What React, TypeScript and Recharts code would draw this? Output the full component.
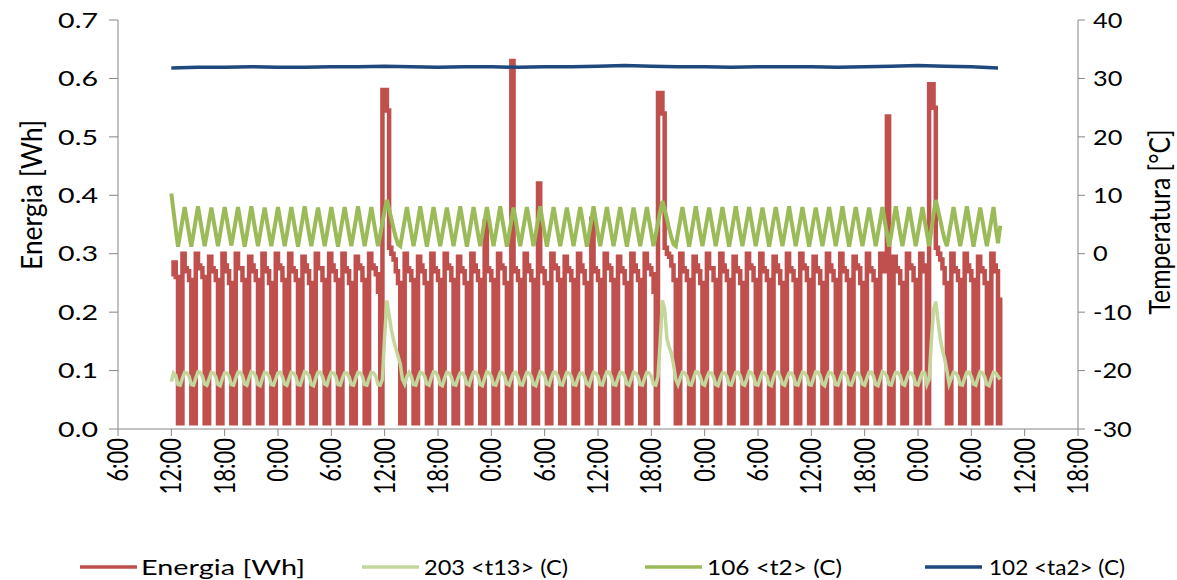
import { LineChart, Line, XAxis, YAxis } from 'recharts'

// x axis: hours from 6:00 of day 1, one tick every 6 hours
const timeLabels = [
  '6:00', '12:00', '18:00', '0:00', '6:00', '12:00', '18:00', '0:00', '6:00', '12:00',
  '18:00', '0:00', '6:00', '12:00', '18:00', '0:00', '6:00', '12:00', '18:00',
]
const energyTicks = [0, 0.1, 0.2, 0.3, 0.4, 0.5, 0.6, 0.7]
const tempTicks = [-30, -20, -10, 0, 10, 20, 30, 40]

// samples every 15 min, first one at 12:00 of day 1
const sampleStart = 6
const sampleStep = 0.25

// Energia [Wh]
const energia = [
  // 12:00 day 1 -> first defrost
  0.265, 0.285, 0.26, 0.01, 0.01, 0.30,
  0.275, 0.27, 0.255, 0.01, 0.01, 0.30,
  0.28, 0.275, 0.26, 0.01, 0.01, 0.295,
  0.275, 0.27, 0.255, 0.01, 0.01, 0.30,
  0.28, 0.27, 0.25, 0.01, 0.01, 0.30,
  0.275, 0.275, 0.255, 0.01, 0.01, 0.295,
  0.28, 0.27, 0.255, 0.01, 0.01, 0.30,
  0.275, 0.27, 0.25, 0.01, 0.01, 0.30,
  0.28, 0.275, 0.255, 0.01, 0.01, 0.30,
  0.275, 0.27, 0.255, 0.01, 0.01, 0.295,
  0.28, 0.27, 0.25, 0.01, 0.01, 0.30,
  0.275, 0.275, 0.255, 0.01, 0.01, 0.30,
  0.28, 0.27, 0.255, 0.01, 0.01, 0.30,
  0.275, 0.27, 0.25, 0.01, 0.01, 0.295,
  0.28, 0.275, 0.255, 0.01, 0.01,
  // defrost 1
  0.30, 0.28, 0.275, 0.265, 0.235, 0.01, 0.58, 0.58, 0.545, 0.31, 0.30, 0.29, 0.27, 0.25,
  0.01, 0.01, 0.30, 0.275, 0.27, 0.255,
  0.01, 0.01, 0.295, 0.28, 0.27, 0.25,
  0.01, 0.01, 0.30, 0.275, 0.27, 0.255,
  0.01, 0.01, 0.30, 0.28, 0.275, 0.255,
  0.01, 0.01, 0.295, 0.275, 0.27, 0.25,
  0.01, 0.01, 0.30, 0.28, 0.27, 0.255,
  0.01, 0.01, 0.355, 0.275, 0.27, 0.255,
  0.01, 0.01, 0.30, 0.28, 0.275, 0.25,
  0.01, 0.01, 0.63, 0.275, 0.27, 0.255,
  0.01, 0.01, 0.30, 0.28, 0.27, 0.255,
  0.01, 0.01, 0.42, 0.275, 0.27, 0.25,
  0.01, 0.01, 0.30, 0.28, 0.275, 0.255,
  0.01, 0.01, 0.295, 0.275, 0.27, 0.255,
  0.01, 0.01, 0.30, 0.28, 0.27, 0.25,
  0.01, 0.01, 0.36, 0.275, 0.27, 0.255,
  0.01, 0.01, 0.30, 0.28, 0.275, 0.255,
  0.01, 0.01, 0.295, 0.275, 0.27, 0.25,
  0.01, 0.01, 0.30, 0.28, 0.27, 0.255,
  0.01, 0.01,
  // defrost 2
  0.30, 0.28, 0.275, 0.265, 0.235, 0.01, 0.575, 0.575, 0.54, 0.31, 0.30, 0.295, 0.28, 0.255,
  0.01, 0.01, 0.30, 0.275, 0.27, 0.255,
  0.01, 0.01, 0.295, 0.28, 0.27, 0.25,
  0.01, 0.01, 0.30, 0.275, 0.275, 0.255,
  0.01, 0.01, 0.30, 0.28, 0.27, 0.255,
  0.01, 0.01, 0.295, 0.275, 0.27, 0.25,
  0.01, 0.01, 0.30, 0.28, 0.275, 0.255,
  0.01, 0.01, 0.30, 0.275, 0.27, 0.255,
  0.01, 0.01, 0.295, 0.28, 0.27, 0.25,
  0.01, 0.01, 0.30, 0.275, 0.27, 0.255,
  0.01, 0.01, 0.30, 0.28, 0.275, 0.255,
  0.01, 0.01, 0.295, 0.275, 0.27, 0.25,
  0.01, 0.01, 0.30, 0.28, 0.27, 0.255,
  0.01, 0.01, 0.30, 0.275, 0.27, 0.255,
  0.01, 0.01, 0.295, 0.28, 0.275, 0.25,
  0.01, 0.01, 0.30, 0.275, 0.27, 0.255,
  0.01, 0.01, 0.30, 0.28, 0.27, 0.535,
  0.01, 0.01, 0.295, 0.275, 0.27, 0.25,
  0.01, 0.01, 0.30, 0.28, 0.275, 0.255,
  0.01, 0.01,
  // defrost 3
  0.30, 0.28, 0.27, 0.01, 0.59, 0.59, 0.55, 0.31, 0.30, 0.29, 0.275, 0.25,
  0.01, 0.01, 0.30, 0.275, 0.27, 0.255,
  0.01, 0.01, 0.30, 0.28, 0.27, 0.255,
  0.01, 0.01, 0.295, 0.275, 0.27, 0.25,
  0.01, 0.01, 0.30, 0.28, 0.27, 0.01,
  0.225,
]

// 203 <t13> (C)
const t13 = [
  -21.9, -20.4, -20.8, -22.4, -22.5, -21.3,
  -20.3, -20.4, -21.0, -22.4, -22.5, -21.3,
  -20.2, -20.3, -21.0, -22.3, -22.5, -21.4,
  -20.3, -20.4, -21.1, -22.4, -22.6, -21.3,
  -20.4, -20.4, -21.0, -22.4, -22.5, -21.3,
  -20.3, -20.3, -20.9, -22.3, -22.5, -21.2,
  -20.2, -20.4, -21.0, -22.4, -22.6, -21.3,
  -20.3, -20.4, -21.0, -22.4, -22.5, -21.4,
  -20.4, -20.3, -21.1, -22.3, -22.5, -21.3,
  -20.3, -20.4, -21.0, -22.4, -22.5, -21.3,
  -20.2, -20.4, -20.9, -22.4, -22.6, -21.3,
  -20.3, -20.3, -21.0, -22.3, -22.5, -21.2,
  -20.3, -20.4, -21.0, -22.4, -22.5, -21.3,
  -20.4, -20.4, -21.1, -22.4, -22.5, -21.3,
  -20.3, -20.4, -21.0, -22.4, -22.5,
  // defrost 1
  -21.3, -20.3, -20.4, -21.0, -22.4, -22.5, -21.5, -14.0, -8.0, -10.5, -13.0, -14.8, -16.2, -17.5,
  -18.8, -21.5, -22.3, -21.0, -20.3, -21.0,
  -22.4, -22.5, -21.3, -20.3, -20.4, -21.0,
  -22.3, -22.5, -21.2, -20.2, -20.3, -21.0,
  -22.4, -22.6, -21.3, -20.3, -20.4, -21.1,
  -22.4, -22.5, -21.3, -20.4, -20.4, -21.0,
  -22.3, -22.5, -21.2, -20.3, -20.3, -20.9,
  -22.4, -22.6, -21.3, -20.2, -20.4, -21.0,
  -22.4, -22.5, -21.4, -20.3, -20.4, -21.0,
  -22.3, -22.5, -21.3, -20.4, -20.3, -21.1,
  -22.4, -22.5, -21.3, -20.3, -20.4, -21.0,
  -22.4, -22.6, -21.3, -20.2, -20.4, -20.9,
  -22.3, -22.5, -21.2, -20.3, -20.3, -21.0,
  -22.4, -22.5, -21.3, -20.3, -20.4, -21.0,
  -22.4, -22.5, -21.3, -20.4, -20.4, -21.1,
  -22.3, -22.6, -21.3, -20.3, -20.4, -21.0,
  -22.4, -22.5, -21.2, -20.2, -20.3, -21.0,
  -22.4, -22.5, -21.3, -20.3, -20.4, -20.9,
  -22.3, -22.5, -21.4, -20.3, -20.4, -21.0,
  -22.4, -22.5,
  // defrost 2
  -21.3, -20.3, -20.4, -21.0, -22.4, -22.5, -21.0, -15.0, -8.0, -9.5, -14.5, -16.0, -17.0, -19.0,
  -21.5, -22.4, -21.3, -20.3, -20.4, -21.0,
  -22.4, -22.5, -21.3, -20.2, -20.3, -21.0,
  -22.3, -22.5, -21.2, -20.3, -20.4, -21.1,
  -22.4, -22.6, -21.3, -20.4, -20.4, -21.0,
  -22.4, -22.5, -21.3, -20.3, -20.3, -20.9,
  -22.3, -22.5, -21.4, -20.2, -20.4, -21.0,
  -22.4, -22.5, -21.3, -20.3, -20.4, -21.0,
  -22.4, -22.6, -21.2, -20.3, -20.3, -21.1,
  -22.3, -22.5, -21.3, -20.4, -20.4, -21.0,
  -22.4, -22.5, -21.3, -20.3, -20.4, -21.0,
  -22.4, -22.5, -21.3, -20.2, -20.3, -20.9,
  -22.3, -22.6, -21.2, -20.3, -20.4, -21.0,
  -22.4, -22.5, -21.3, -20.3, -20.4, -21.0,
  -22.4, -22.5, -21.4, -20.4, -20.4, -21.1,
  -22.3, -22.5, -21.3, -20.3, -20.3, -21.0,
  -22.4, -22.6, -21.3, -20.2, -20.4, -21.0,
  -22.4, -22.5, -21.2, -20.3, -20.4, -20.9,
  -22.3, -22.5, -21.3, -20.3, -20.4, -21.0,
  -22.4, -22.5,
  // defrost 3
  -21.3, -20.3, -20.4, -22.4, -21.5, -15.0, -9.5, -8.2, -11.5, -14.5, -16.5, -18.0,
  -20.0, -22.3, -21.3, -20.3, -20.4, -21.0,
  -22.4, -22.5, -21.3, -20.3, -20.3, -21.0,
  -22.3, -22.5, -21.2, -20.2, -20.4, -21.1,
  -22.4, -22.6, -21.3, -20.3, -20.4, -21.0,
  -21.5,
]

// 106 <t2> (C)
const t2 = [
  10.3, 7.2, 4.2, 1.2, 3.4, 5.7,
  8.0, 5.7, 3.4, 1.2, 3.5, 5.8,
  8.1, 5.8, 3.5, 1.3, 3.4, 5.6,
  7.9, 5.7, 3.5, 1.3, 3.5, 5.8,
  8.0, 5.8, 3.6, 1.4, 3.5, 5.7,
  8.0, 5.7, 3.4, 1.2, 3.4, 5.7,
  8.1, 5.8, 3.5, 1.3, 3.5, 5.8,
  7.9, 5.6, 3.4, 1.3, 3.5, 5.7,
  8.0, 5.7, 3.5, 1.3, 3.4, 5.7,
  8.0, 5.8, 3.5, 1.2, 3.5, 5.8,
  8.1, 5.7, 3.4, 1.3, 3.5, 5.7,
  7.9, 5.7, 3.5, 1.3, 3.4, 5.7,
  8.0, 5.8, 3.5, 1.2, 3.5, 5.8,
  8.0, 5.7, 3.4, 1.3, 3.5, 5.7,
  8.1, 5.8, 3.5, 1.3, 3.5,
  // defrost 1
  5.7, 8.0, 5.7, 3.5, 1.3, 3.2, 5.3, 7.4, 9.2, 7.6, 6.0, 4.3, 2.8, 1.6,
  1.3, 3.5, 5.7, 8.0, 5.7, 3.5,
  1.3, 3.4, 5.7, 8.1, 5.8, 3.5,
  1.2, 3.5, 5.8, 8.0, 5.7, 3.4,
  1.3, 3.5, 5.7, 7.9, 5.7, 3.5,
  1.3, 3.5, 5.8, 8.1, 5.8, 3.5,
  1.2, 3.4, 5.7, 8.0, 5.7, 3.4,
  1.3, 3.5, 5.7, 8.0, 5.8, 3.5,
  1.3, 3.5, 5.8, 8.1, 5.7, 3.5,
  1.2, 3.4, 5.7, 7.9, 5.7, 3.4,
  1.3, 3.5, 5.7, 8.0, 5.8, 3.5,
  1.3, 3.5, 5.8, 8.1, 5.7, 3.5,
  1.2, 3.5, 5.7, 8.0, 5.7, 3.4,
  1.3, 3.4, 5.7, 7.9, 5.7, 3.5,
  1.3, 3.5, 5.8, 8.0, 5.8, 3.5,
  1.2, 3.5, 5.7, 8.1, 5.7, 3.4,
  1.3, 3.5, 5.7, 8.0, 5.7, 3.5,
  1.3, 3.4, 5.8, 8.0, 5.8, 3.5,
  1.2, 3.5, 5.7, 7.9, 5.7, 3.4,
  1.3, 3.5,
  // defrost 2
  5.7, 8.0, 5.7, 3.5, 1.3, 3.3, 5.3, 7.2, 9.0, 7.6, 6.0, 4.3, 2.8, 1.6,
  1.3, 3.5, 5.7, 8.0, 5.7, 3.5,
  1.2, 3.4, 5.8, 8.1, 5.8, 3.4,
  1.3, 3.5, 5.7, 7.9, 5.7, 3.5,
  1.3, 3.5, 5.7, 8.0, 5.7, 3.5,
  1.2, 3.4, 5.8, 8.1, 5.8, 3.4,
  1.3, 3.5, 5.7, 8.0, 5.7, 3.5,
  1.3, 3.5, 5.7, 7.9, 5.7, 3.5,
  1.2, 3.4, 5.8, 8.0, 5.8, 3.4,
  1.3, 3.5, 5.7, 8.1, 5.7, 3.5,
  1.3, 3.5, 5.7, 8.0, 5.7, 3.5,
  1.2, 3.4, 5.8, 7.9, 5.8, 3.4,
  1.3, 3.5, 5.7, 8.0, 5.7, 3.5,
  1.3, 3.5, 5.7, 8.1, 5.7, 3.5,
  1.2, 3.4, 5.8, 8.0, 5.8, 3.4,
  1.3, 3.5, 5.7, 7.9, 5.7, 3.5,
  1.3, 3.5, 5.7, 8.0, 5.7, 3.5,
  1.2, 3.4, 5.8, 8.1, 5.8, 3.4,
  1.3, 3.5, 5.7, 8.0, 5.7, 3.5,
  1.3, 3.5,
  // defrost 3
  5.7, 8.0, 5.7, 3.5, 1.3, 4.0, 6.8, 9.2, 7.5, 5.8, 4.0, 2.4,
  1.3, 3.5, 5.7, 8.0, 5.7, 3.5,
  1.3, 3.4, 5.8, 8.1, 5.8, 3.5,
  1.2, 3.5, 5.7, 7.9, 5.7, 3.4,
  1.3, 3.5, 5.7, 8.0, 4.5, 1.8,
  4.8,
]

// 102 <ta2> (C), one reading every 3 hours from 12:00 of day 1
const ta2Start = 6
const ta2Step = 3
const ta2 = [
  31.8, 31.9, 31.9, 32.0, 31.9, 31.9, 32.0, 32.0, 32.1, 32.0, 31.9, 32.0, 32.0, 31.9, 32.0, 32.0,
  32.1, 32.2, 32.1, 32.0, 32.0, 31.9, 32.0, 32.0, 32.0, 31.9, 32.0, 32.1, 32.2, 32.1, 32.0, 31.8,
]

const series = [
  { name: 'Energia [Wh]', color: '#C0504D' },
  { name: '203 <t13> (C)', color: '#C3D69B' },
  { name: '106 <t2> (C)', color: '#9BBB59' },
  { name: '102 <ta2> (C)', color: '#1F497D' },
]

const chartData = energia.map((e, k) => ({
  h: sampleStart + k * sampleStep,
  e,
  t13: t13[k],
  t2: t2[k],
}))
const ta2Data = ta2.map((t, i) => ({ h: ta2Start + i * ta2Step, ta2: t }))
const hourTicks = timeLabels.map((_, i) => i * 6)

const FONT = 'Lato, "Open Sans", sans-serif'
const AXIS = '#868686'
const FONT_SIZE = 22
// the picture is wider than tall, text glyphs are stretched sideways
const STRETCH = 1.3

function TimeTick({ x, y, payload }: any) {
  const label = timeLabels[Math.round(payload.value / 6)]
  return (
    <text
      transform={`translate(${x} ${y}) scale(${STRETCH} 1) rotate(-90)`}
      textAnchor="end"
      dy="0.35em"
      fontSize={FONT_SIZE}
      fontFamily={FONT}
      fill="#000"
    >
      {label}
    </text>
  )
}

function EnergyTick({ x, y, payload }: any) {
  return (
    <text
      transform={`translate(${x} ${y}) scale(${STRETCH} 1)`}
      textAnchor="end"
      dy="0.35em"
      fontSize={FONT_SIZE}
      fontFamily={FONT}
      fill="#000"
    >
      {payload.value.toFixed(1)}
    </text>
  )
}

function TempTick({ x, y, payload }: any) {
  return (
    <text
      transform={`translate(${x} ${y}) scale(1.15 1)`}
      textAnchor="start"
      dy="0.35em"
      fontSize={FONT_SIZE}
      fontFamily={FONT}
      fill="#000"
    >
      {payload.value}
    </text>
  )
}

const legendPos = [
  { lineX: 80, textX: 141, textW: 164 },
  { lineX: 362, textX: 424, textW: 144 },
  { lineX: 645, textX: 707, textW: 135 },
  { lineX: 925, textX: 989, textW: 136 },
]

export default function App() {
  return (
    <div style={{ position: 'absolute', left: 0, top: 0, width: 1177, height: 580, background: '#fff' }}>
      <LineChart
        width={1177}
        height={580}
        data={chartData}
        margin={{ top: 20, right: 39, bottom: 91, left: 58 }}
      >
        <XAxis
          dataKey="h"
          type="number"
          domain={[0, 108]}
          ticks={hourTicks}
          interval={0}
          height={60}
          axisLine={{ stroke: AXIS }}
          tickLine={{ stroke: AXIS }}
          tickSize={7}
          tickMargin={2}
          tick={<TimeTick />}
        />
        <YAxis
          yAxisId="left"
          domain={[0, 0.7]}
          ticks={energyTicks}
          interval={0}
          width={60}
          axisLine={{ stroke: AXIS }}
          tickLine={{ stroke: AXIS }}
          tickSize={9}
          tickMargin={11}
          tick={<EnergyTick />}
        />
        <YAxis
          yAxisId="right"
          orientation="right"
          domain={[-30, 40]}
          ticks={tempTicks}
          interval={0}
          width={60}
          axisLine={{ stroke: AXIS }}
          tickLine={{ stroke: AXIS }}
          tickSize={7}
          tickMargin={8}
          tick={<TempTick />}
        />
        <Line
          yAxisId="left"
          type="stepAfter"
          dataKey="e"
          stroke={series[0].color}
          strokeWidth={4.5}
          dot={false}
          isAnimationActive={false}
        />
        <Line
          yAxisId="right"
          type="linear"
          dataKey="t13"
          stroke={series[1].color}
          strokeWidth={3.5}
          dot={false}
          isAnimationActive={false}
        />
        <Line
          yAxisId="right"
          type="linear"
          dataKey="t2"
          stroke={series[2].color}
          strokeWidth={4}
          dot={false}
          isAnimationActive={false}
        />
        <Line
          yAxisId="right"
          type="linear"
          data={ta2Data}
          dataKey="ta2"
          stroke={series[3].color}
          strokeWidth={3.5}
          dot={false}
          isAnimationActive={false}
        />
      </LineChart>

      <svg
        width={1177}
        height={580}
        style={{ position: 'absolute', left: 0, top: 0, pointerEvents: 'none' }}
      >
        <text
          transform={`translate(32 195) scale(${STRETCH} 1) rotate(-90)`}
          textAnchor="middle"
          dy="0.35em"
          fontSize={FONT_SIZE}
          fontFamily={FONT}
          fill="#000"
          textLength={150}
          lengthAdjust="spacingAndGlyphs"
        >
          Energia [Wh]
        </text>
        <text
          transform={`translate(1160 222) scale(${STRETCH} 1) rotate(-90)`}
          textAnchor="middle"
          dy="0.35em"
          fontSize={FONT_SIZE}
          fontFamily={FONT}
          fill="#000"
          textLength={185}
          lengthAdjust="spacingAndGlyphs"
        >
          Temperatura [°C]
        </text>
        {series.map((s, i) => (
          <g key={s.name}>
            <line
              x1={legendPos[i].lineX}
              x2={legendPos[i].lineX + 57}
              y1={567}
              y2={567}
              stroke={s.color}
              strokeWidth={3.5}
            />
            <text
              x={legendPos[i].textX}
              y={567}
              dy="0.35em"
              fontSize={FONT_SIZE}
              fontFamily={FONT}
              fill="#000"
              textLength={legendPos[i].textW}
              lengthAdjust="spacingAndGlyphs"
            >
              {s.name}
            </text>
          </g>
        ))}
      </svg>
    </div>
  )
}
